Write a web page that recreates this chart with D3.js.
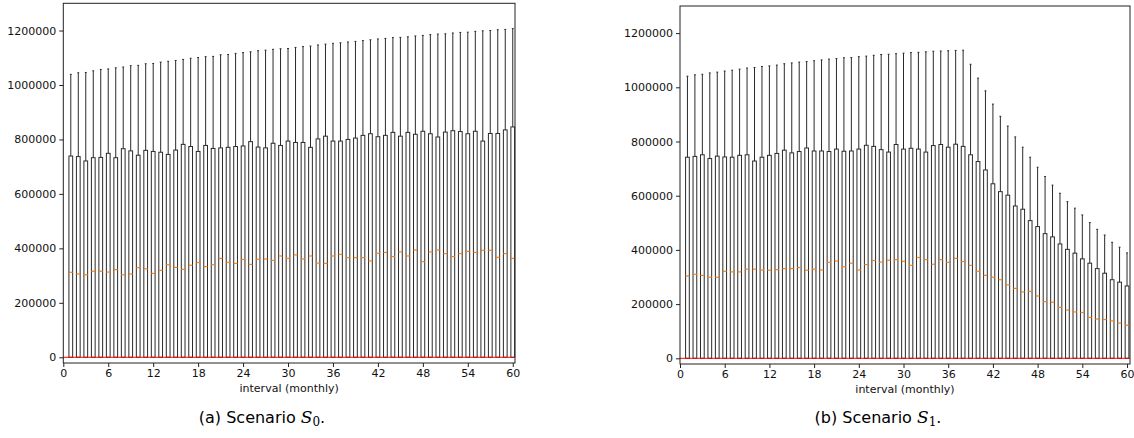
<!DOCTYPE html>
<html><head><meta charset="utf-8">
<script src="https://cdn.jsdelivr.net/npm/d3@7"></script>
<style>body{margin:0;background:#fff}svg{display:block}</style>
</head><body>
<svg id="c" width="1134" height="438"></svg>
<script>
const intervals = [1,2,3,4,5,6,7,8,9,10,11,12,13,14,15,16,17,18,19,20,21,22,23,24,25,26,27,28,29,30,
  31,32,33,34,35,36,37,38,39,40,41,42,43,44,45,46,47,48,49,50,51,52,53,54,55,56,57,58,59,60];
const xTicks = [0,6,12,18,24,30,36,42,48,54,60];
const yTicks = [0,200000,400000,600000,800000,1000000,1200000];
const boxBottom = 0;

const s0WhiskerHigh = [1039000,1045000,1046000,1052000,1057000,1059000,1063000,1066000,1071000,1072000,
  1078000,1079000,1084000,1087000,1090000,1094000,1098000,1101000,1104000,1105000,
  1111000,1112000,1116000,1119000,1122000,1126000,1128000,1131000,1133000,1134000,
  1138000,1141000,1143000,1147000,1150000,1153000,1155000,1158000,1160000,1163000,
  1166000,1169000,1171000,1174000,1175000,1177000,1180000,1182000,1185000,1187000,
  1188000,1191000,1193000,1194000,1197000,1199000,1200000,1203000,1204000,1207000];
const s0Q3 = [739000,737000,721000,733000,734000,749000,733000,766000,758000,742000,
  760000,756000,753000,745000,761000,782000,774000,756000,778000,767000,
  769000,771000,774000,776000,792000,772000,769000,786000,778000,794000,
  789000,789000,771000,802000,812000,794000,794000,800000,805000,815000,
  821000,810000,815000,826000,812000,826000,819000,830000,821000,809000,
  827000,832000,829000,821000,830000,794000,822000,822000,835000,846000];
const s0Median = [312000,306000,303000,316000,316000,313000,322000,303000,306000,329000,
  325000,308000,319000,340000,330000,323000,338000,348000,333000,340000,
  363000,349000,345000,359000,341000,360000,361000,356000,372000,363000,
  376000,361000,372000,346000,345000,372000,378000,366000,366000,366000,
  354000,382000,385000,370000,387000,372000,394000,351000,387000,394000,
  381000,370000,381000,389000,385000,393000,393000,367000,381000,363000];

const s1WhiskerHigh = [1041000,1046000,1048000,1053000,1056000,1060000,1063000,1067000,1071000,1073000,
  1077000,1079000,1082000,1087000,1090000,1093000,1095000,1098000,1101000,1104000,
  1106000,1109000,1110000,1113000,1115000,1118000,1121000,1122000,1124000,1126000,
  1128000,1129000,1131000,1133000,1134000,1135000,1136000,1137000,1085000,1034000,
  987000,938000,893000,857000,817000,779000,742000,705000,671000,639000,
  609000,578000,554000,529000,501000,476000,455000,428000,410000,389000];
const s1Q3 = [742000,745000,751000,737000,746000,743000,742000,749000,751000,728000,
  742000,749000,756000,768000,758000,763000,776000,765000,765000,763000,
  772000,764000,765000,772000,786000,782000,770000,761000,789000,772000,
  775000,772000,761000,785000,789000,779000,790000,782000,751000,726000,
  695000,644000,615000,602000,562000,550000,508000,486000,460000,448000,
  422000,402000,388000,367000,351000,331000,314000,290000,281000,267000];
const s1Median = [304000,310000,306000,299000,299000,321000,319000,319000,329000,329000,
  326000,325000,327000,331000,331000,335000,325000,329000,326000,354000,
  359000,338000,351000,326000,346000,361000,355000,362000,364000,358000,
  343000,372000,364000,347000,364000,354000,369000,357000,343000,321000,
  306000,299000,290000,271000,258000,245000,247000,230000,209000,207000,
  188000,178000,171000,169000,151000,145000,143000,138000,130000,122000];

const svg = d3.select("#c");
const FONT = "'DejaVu Sans', sans-serif";

function panel(cfg) {
  const x = d3.scaleLinear().domain([0, cfg.xmax]).range([cfg.left, cfg.right]);
  const y = d3.scaleLinear().domain([-21000, 1300000]).range([cfg.bottom, cfg.top]);
  const g = svg.append("g");
  const bw = 0.5;
  const rows = intervals.map((d, i) => ({ pos: d, hi: cfg.hi[i], q3: cfg.q3[i], med: cfg.med[i], lo: boxBottom }));
  const ink = "#2a2a2a";

  g.selectAll(".wh").data(rows).join("line")
    .attr("x1", d => x(d.pos)).attr("x2", d => x(d.pos))
    .attr("y1", d => y(d.q3)).attr("y2", d => y(d.hi))
    .attr("stroke", ink).attr("stroke-width", 1);
  g.selectAll(".cap").data(rows).join("line")
    .attr("x1", d => x(d.pos - bw / 4)).attr("x2", d => x(d.pos + bw / 4))
    .attr("y1", d => y(d.hi)).attr("y2", d => y(d.hi))
    .attr("stroke", ink).attr("stroke-width", 1);
  g.selectAll(".box").data(rows).join("rect")
    .attr("x", d => x(d.pos - bw / 2)).attr("width", d => x(d.pos + bw / 2) - x(d.pos - bw / 2))
    .attr("y", d => y(d.q3)).attr("height", d => y(d.lo) - y(d.q3))
    .attr("fill", "none").attr("stroke", ink).attr("stroke-width", 1);
  g.selectAll(".med").data(rows).join("line")
    .attr("x1", d => x(d.pos - bw / 2)).attr("x2", d => x(d.pos + bw / 2))
    .attr("y1", d => y(d.med)).attr("y2", d => y(d.med))
    .attr("stroke", "#ff7f0e").attr("stroke-width", 1.2);
  g.append("line").attr("x1", x(0)).attr("x2", x(cfg.xmax))
    .attr("y1", y(boxBottom)).attr("y2", y(boxBottom))
    .attr("stroke", "#ff0000").attr("stroke-width", 1);

  g.append("rect").attr("x", cfg.left).attr("y", cfg.top)
    .attr("width", cfg.right - cfg.left).attr("height", cfg.bottom - cfg.top)
    .attr("fill", "none").attr("stroke", "#222").attr("stroke-width", 1);

  const xa = g.append("g").attr("transform", `translate(0,${cfg.bottom})`)
    .call(d3.axisBottom(x).tickValues(xTicks).tickSize(4).tickPadding(2).tickFormat(d3.format("d")));
  const ya = g.append("g").attr("transform", `translate(${cfg.left},0)`)
    .call(d3.axisLeft(y).tickValues(yTicks).tickSize(4).tickPadding(3).tickFormat(d3.format("d")));
  [xa, ya].forEach(a => {
    a.select(".domain").remove();
    a.selectAll("text").attr("font-family", FONT).attr("font-size", 11).attr("fill", "#111");
    a.selectAll("line").attr("stroke", "#222");
  });

  g.append("text").attr("x", (cfg.left + cfg.right) / 2).attr("y", cfg.bottom + 29)
    .attr("text-anchor", "middle").attr("font-family", FONT).attr("font-size", 11)
    .attr("fill", "#111").text("interval (monthly)");

  const cap = g.append("text").attr("x", cfg.capX).attr("y", 423).attr("text-anchor", "middle")
    .attr("font-family", FONT).attr("font-size", 16).attr("fill", "#000");
  cap.append("tspan").text(cfg.capLabel + " Scenario ");
  cap.append("tspan").attr("font-family", "'DejaVu Serif', 'Liberation Serif', serif")
    .attr("font-style", "italic").attr("font-size", 17).text("S");
  cap.append("tspan").attr("font-family", "'DejaVu Serif', serif").attr("font-size", 12)
    .attr("dy", 3).text(cfg.sub);
  cap.append("tspan").attr("dy", -3).text(".");
}

panel({ left: 63.3, right: 515, top: 3.3, bottom: 363, xmax: 60.3,
  hi: s0WhiskerHigh, q3: s0Q3, med: s0Median, capX: 262, capLabel: "(a)", sub: "0" });
panel({ left: 680, right: 1130, top: 6, bottom: 364, xmax: 60.4,
  hi: s1WhiskerHigh, q3: s1Q3, med: s1Median, capX: 878, capLabel: "(b)", sub: "1" });
</script>
</body></html>
